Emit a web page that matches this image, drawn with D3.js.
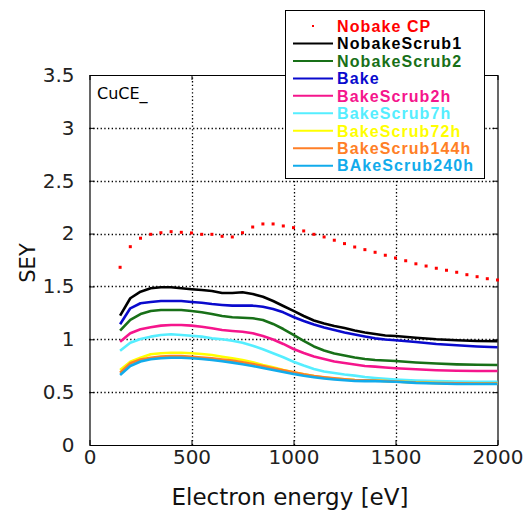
<!DOCTYPE html>
<html><head><meta charset="utf-8">
<script src="https://cdn.jsdelivr.net/npm/d3@7"></script>
<style>body{margin:0;background:#fff}</style>
</head><body><svg id="c" width="523" height="513"></svg>
<script>
const cpEnergy = [150,200,250,300,350,400,450,500,550,600,650,700,750,800,850,900,950,1000,1050,1100,1150,1200,1250,1300,1350,1400,1450,1500,1550,1600,1650,1700,1750,1800,1850,1900,1950,2000];
const nobakeCP = [1.681,1.876,1.956,1.993,2.008,2.018,2.012,2.006,1.993,1.993,1.974,1.968,2.008,2.062,2.091,2.091,2.072,2.056,2.025,1.993,1.968,1.937,1.905,1.873,1.848,1.823,1.795,1.769,1.743,1.714,1.693,1.672,1.653,1.634,1.611,1.592,1.573,1.561];

const energy = [150,200,250,300,350,400,450,500,550,600,650,700,750,800,850,900,950,1000,1050,1100,1150,1200,1250,1300,1350,1400,1450,1500,1600,1700,1800,1900,2000];
const nobakeScrub1 = [1.223,1.388,1.450,1.482,1.492,1.492,1.482,1.473,1.466,1.457,1.438,1.438,1.445,1.429,1.403,1.362,1.315,1.268,1.220,1.178,1.149,1.126,1.107,1.083,1.064,1.050,1.036,1.031,1.014,1.000,0.991,0.984,0.981];
const nobakeScrub2 = [1.081,1.183,1.239,1.268,1.277,1.277,1.277,1.268,1.255,1.239,1.220,1.208,1.204,1.199,1.183,1.145,1.097,1.041,0.984,0.932,0.894,0.866,0.847,0.828,0.814,0.804,0.799,0.795,0.781,0.771,0.763,0.759,0.757];
const bake = [1.142,1.293,1.341,1.353,1.362,1.362,1.362,1.353,1.346,1.334,1.325,1.318,1.318,1.318,1.308,1.287,1.255,1.211,1.173,1.140,1.112,1.088,1.064,1.045,1.026,1.009,0.998,0.991,0.974,0.956,0.943,0.932,0.924];
const bakeScrub2h = [0.977,1.057,1.095,1.114,1.129,1.135,1.135,1.129,1.119,1.104,1.088,1.079,1.072,1.057,1.031,0.998,0.956,0.908,0.870,0.837,0.814,0.790,0.776,0.762,0.747,0.741,0.733,0.726,0.716,0.707,0.702,0.700,0.700];
const bakeScrub7h = [0.892,0.968,1.003,1.025,1.041,1.047,1.041,1.034,1.025,1.009,1.000,0.987,0.968,0.939,0.905,0.868,0.830,0.788,0.752,0.719,0.695,0.681,0.667,0.656,0.643,0.634,0.626,0.620,0.610,0.604,0.601,0.599,0.599];
const bakeScrub72h = [0.710,0.788,0.826,0.858,0.868,0.873,0.873,0.868,0.861,0.851,0.835,0.820,0.804,0.782,0.757,0.735,0.710,0.688,0.669,0.653,0.639,0.629,0.622,0.615,0.612,0.610,0.606,0.601,0.592,0.587,0.584,0.582,0.582];
const bakeScrub144h = [0.684,0.773,0.809,0.826,0.837,0.842,0.842,0.835,0.828,0.820,0.809,0.798,0.782,0.766,0.747,0.726,0.707,0.688,0.669,0.653,0.641,0.631,0.622,0.615,0.612,0.610,0.605,0.601,0.591,0.587,0.584,0.582,0.582];
const bakeScrub240h = [0.662,0.747,0.790,0.811,0.820,0.826,0.826,0.820,0.814,0.804,0.792,0.779,0.763,0.747,0.728,0.710,0.691,0.672,0.655,0.641,0.629,0.620,0.612,0.605,0.604,0.604,0.601,0.599,0.588,0.582,0.577,0.577,0.577];

const seriesNames = ["NobakeScrub1","NobakeScrub2","Bake","BakeScrub2h","BakeScrub7h","BakeScrub72h","BakeScrub144h","BAkeScrub240h"];
const seriesValues = [nobakeScrub1,nobakeScrub2,bake,bakeScrub2h,bakeScrub7h,bakeScrub72h,bakeScrub144h,bakeScrub240h];
const seriesColors = ["#000000","#187018","#0A0ACD","#F5158C","#55EEFF","#FFFF00","#FF7F27","#12ABEB"];
const xTicks = [0,500,1000,1500,2000];
const yTicks = [0,0.5,1,1.5,2,2.5,3,3.5];

const svg = d3.select("#c");
const L = 89.5, R = 497.5, T = 75, B = 445;
const x = d3.scaleLinear().domain([0,2000]).range([L,R]);
const y = d3.scaleLinear().domain([0,3.5]).range([B,T]);
const tickFont = "DejaVu Sans, sans-serif";

// grid
const grid = svg.append("g").attr("stroke","#000").attr("stroke-width",1.3).attr("stroke-dasharray","1.3,2.4");
grid.selectAll(".gx").data(xTicks.slice(1,-1)).join("line")
  .attr("x1",d=>Math.round(x(d))+0.5).attr("x2",d=>Math.round(x(d))+0.5).attr("y1",B).attr("y2",T);
grid.selectAll(".gy").data(yTicks.slice(1,-1)).join("line")
  .attr("x1",L).attr("x2",R).attr("y1",d=>Math.round(y(d))+0.5).attr("y2",d=>Math.round(y(d))+0.5);

// axes
const ax = svg.append("g").attr("transform",`translate(0,${B})`)
  .call(d3.axisBottom(x).tickValues(xTicks).tickFormat(d3.format("d")).tickSizeInner(-5).tickSizeOuter(0).tickPadding(5));
const ay = svg.append("g").attr("transform",`translate(${L},0)`)
  .call(d3.axisLeft(y).tickValues(yTicks).tickFormat(d=>String(d)).tickSizeInner(-5).tickSizeOuter(0).tickPadding(15));
const at = svg.append("g").attr("transform",`translate(0,${T})`)
  .call(d3.axisTop(x).tickValues(xTicks).tickFormat("").tickSizeInner(-5).tickSizeOuter(0));
const ar = svg.append("g").attr("transform",`translate(${R},0)`)
  .call(d3.axisRight(y).tickValues(yTicks).tickFormat("").tickSizeInner(-5).tickSizeOuter(0));
[ax,ay,at,ar].forEach(g=>{
  g.selectAll(".domain").attr("stroke","#000").attr("stroke-width",1.2);
  g.selectAll(".tick line").attr("stroke","#000");
  g.selectAll("text").attr("font-family",tickFont).attr("font-size",20).attr("fill","#222");
});

// lines
const line = d3.line().x((d,i)=>x(energy[i])).y(d=>y(d));
svg.append("g").selectAll("path").data(seriesValues).join("path")
  .attr("d",line).attr("fill","none").attr("stroke",(d,i)=>seriesColors[i])
  .attr("stroke-width",2.6).attr("stroke-linejoin","round");

// CP dots
svg.append("g").selectAll("rect").data(nobakeCP).join("rect")
  .attr("x",(d,i)=>x(cpEnergy[i])-1.5).attr("y",d=>y(d)-1.5)
  .attr("width",3).attr("height",3).attr("fill","#FF0000");

// in-plot label
svg.append("text").attr("x",97).attr("y",99).attr("font-family",tickFont).attr("font-size",16).attr("fill","#000").text("CuCE_");

// axis titles
svg.append("text").attr("x",290).attr("y",505).attr("text-anchor","middle")
  .attr("font-family",tickFont).attr("font-size",23).attr("fill","#111").text("Electron energy [eV]");
svg.append("text").attr("transform","translate(35,263) rotate(-90)").attr("text-anchor","middle")
  .attr("font-family",tickFont).attr("font-size",21).attr("fill","#111").text("SEY");

// legend
const lg = svg.append("g");
lg.append("rect").attr("x",285.5).attr("y",10.5).attr("width",199).attr("height",168)
  .attr("fill","#fff").attr("stroke","#000").attr("stroke-width",1);
const legNames = ["Nobake CP"].concat(seriesNames);
const legColors = ["#FF0000"].concat(seriesColors);
const rowY = i => 26 + 17.46*i;
lg.selectAll("text").data(legNames).join("text")
  .attr("x",337).attr("y",(d,i)=>rowY(i)).attr("dy","0.36em")
  .attr("font-family","Liberation Sans, Arial, sans-serif").attr("font-weight","bold")
  .attr("font-size",16).attr("letter-spacing",1.1).attr("fill",(d,i)=>legColors[i]).text(d=>d);
lg.selectAll("line").data(seriesNames).join("line")
  .attr("x1",293).attr("x2",333).attr("y1",(d,i)=>rowY(i+1)).attr("y2",(d,i)=>rowY(i+1))
  .attr("stroke",(d,i)=>seriesColors[i]).attr("stroke-width",2);
lg.append("rect").attr("x",312).attr("y",rowY(0)-1).attr("width",2).attr("height",2).attr("fill","#FF0000");
</script></body></html>
